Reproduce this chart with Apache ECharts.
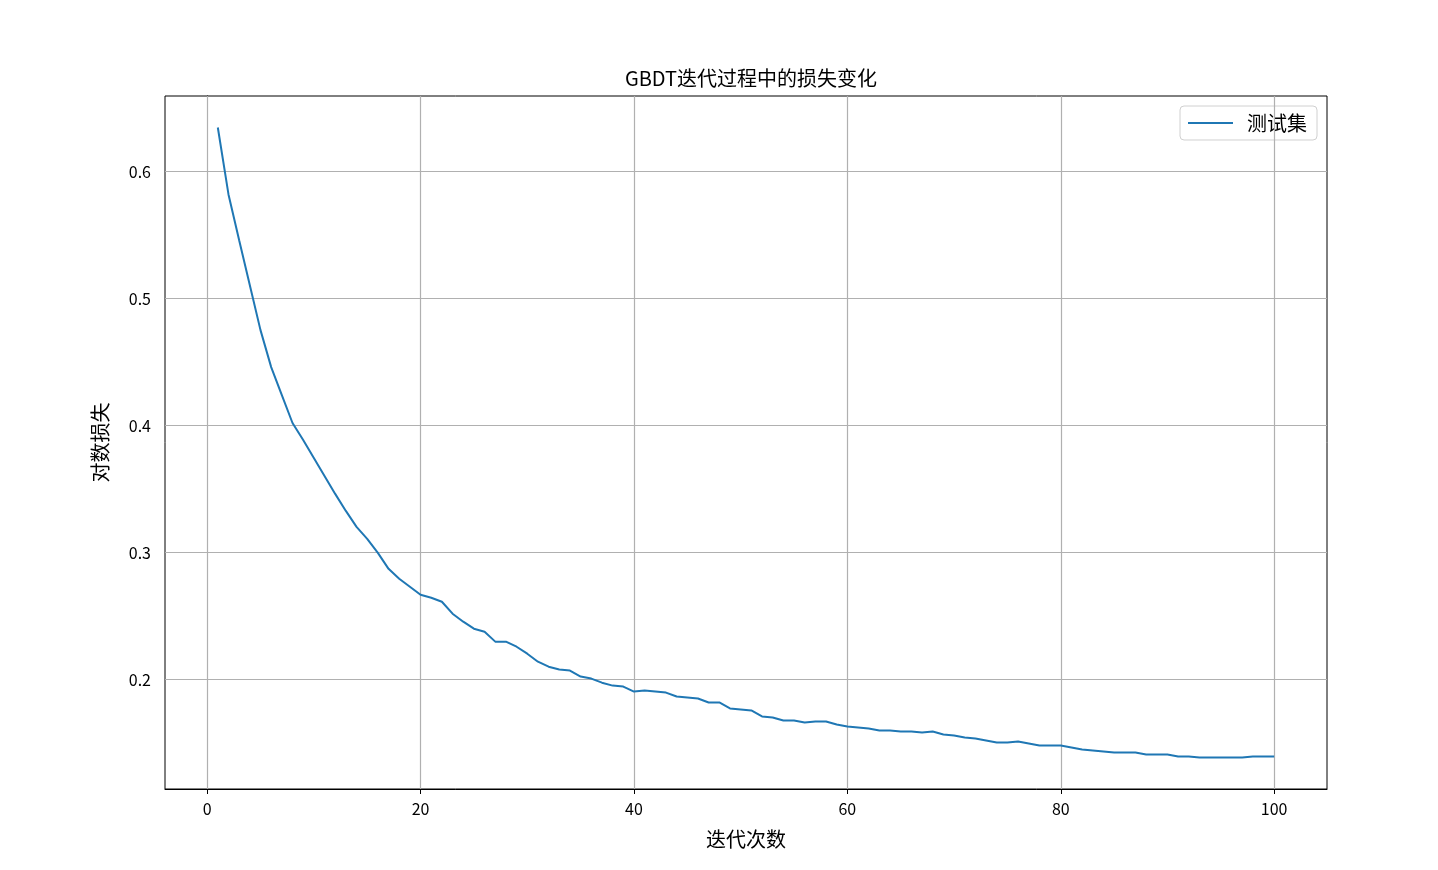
<!DOCTYPE html>
<html>
<head>
<meta charset="utf-8">
<script src="https://cdn.jsdelivr.net/npm/echarts@6/dist/echarts.min.js"></script>
<style>html,body{margin:0;padding:0;background:#fff}#c{width:1438px;height:870px}</style>
</head>
<body>
<div id="c"></div>
<script>
var iterations = [];
for (var i = 1; i <= 100; i++) iterations.push(i);
var testLoss = [
0.6346,0.5819,0.5458,0.5104,0.4751,0.4460,0.4240,0.4020,0.3886,0.3745,
0.3603,0.3462,0.3328,0.3202,0.3108,0.2998,0.2872,0.2794,0.2731,0.2668,
0.2644,0.2613,0.2519,0.2456,0.2401,0.2377,0.2299,0.2299,0.2259,0.2204,
0.2141,0.2102,0.2079,0.2071,0.2024,0.2008,0.1976,0.1953,0.1945,0.1906,
0.1914,0.1906,0.1898,0.1867,0.1859,0.1851,0.1820,0.1820,0.1773,0.1765,
0.1757,0.1710,0.1702,0.1678,0.1678,0.1662,0.1670,0.1670,0.1647,0.1631,
0.1623,0.1615,0.1599,0.1599,0.1591,0.1591,0.1584,0.1591,0.1568,0.1560,
0.1544,0.1536,0.1521,0.1505,0.1505,0.1513,0.1497,0.1481,0.1481,0.1481,
0.1466,0.1450,0.1442,0.1434,0.1426,0.1426,0.1426,0.1411,0.1411,0.1411,
0.1395,0.1395,0.1387,0.1387,0.1387,0.1387,0.1387,0.1395,0.1395,0.1395
];
var xTicks = [0, 20, 40, 60, 80, 100];
var yTicks = [0.2, 0.3, 0.4, 0.5, 0.6];
var titleText = 'GBDT迭代过程中的损失变化';
var xName = '迭代次数';
var yName = '对数损失';
var seriesName = '测试集';

var FONT = '"Noto Sans CJK SC", "DejaVu Sans", sans-serif';
var chart = echarts.init(document.getElementById('c'), null, {renderer: 'canvas'});
var pts = iterations.map(function (x, k) { return [x, testLoss[k]]; });
var xmin = 1 - 0.05 * 99, xmax = 100 + 0.05 * 99;
var ymaxD = Math.max.apply(null, testLoss), yminD = Math.min.apply(null, testLoss);
var yr = ymaxD - yminD;
chart.setOption({
  animation: false,
  backgroundColor: '#fff',
  title: {
    text: titleText, left: 746, top: 63, textAlign: 'center',
    textStyle: {fontFamily: FONT, fontSize: 20, fontWeight: 'normal', color: '#000'}
  },
  legend: {
    data: [{name: seriesName, icon: 'path://M0,0 L45,0 L45,2 L0,2 Z'}], right: 121, top: 106,
    orient: 'vertical',
    borderColor: '#d0d0d0', borderWidth: 1, borderRadius: 4,
    padding: [7, 10, 7, 8],
    itemWidth: 45, itemHeight: 2, itemGap: 6,
    textStyle: {fontFamily: FONT, fontSize: 20, color: '#000', padding: [0, 0, 0, 9]}
  },
  grid: {left: 165, top: 96, width: 1162, height: 693, show: true, borderColor: '#000', borderWidth: 1, backgroundColor: 'transparent'},
  xAxis: {
    type: 'value', min: xmin, max: xmax,
    name: xName, nameLocation: 'middle', nameGap: 40,
    nameTextStyle: {fontFamily: FONT, fontSize: 20, color: '#000'},
    axisLine: {show: true, lineStyle: {color: '#000', width: 1}},
    axisTick: {show: true, length: 5, lineStyle: {color: '#000'}, customValues: xTicks},
    axisLabel: {fontFamily: FONT, fontSize: 16, color: '#000', margin: 12, customValues: xTicks},
    splitLine: {show: false}
  },
  yAxis: {
    type: 'value', min: yminD - 0.05 * yr, max: ymaxD + 0.05 * yr,
    name: yName, nameLocation: 'middle', nameGap: 55,
    nameTextStyle: {fontFamily: FONT, fontSize: 20, color: '#000'},
    axisLine: {show: true, lineStyle: {color: '#000', width: 1}},
    axisTick: {show: true, length: 5, lineStyle: {color: '#000'}, customValues: yTicks},
    axisLabel: {fontFamily: FONT, fontSize: 16, color: '#000', margin: 14, customValues: yTicks,
      formatter: function (v) { return v.toFixed(1); }},
    splitLine: {show: false}
  },
  series: [
    {
      name: seriesName, type: 'line', data: pts, symbol: 'none', showSymbol: false,
      lineStyle: {color: '#1f77b4', width: 2}, itemStyle: {color: '#1f77b4'}, z: 5
    },
    {
      type: 'line', data: [], silent: true, z: 1,
      markLine: {
        silent: true, symbol: 'none', label: {show: false},
        lineStyle: {color: '#b0b0b0', width: 1.2, type: 'solid'},
        data: xTicks.map(function (v) { return {xAxis: v}; }).concat(yTicks.map(function (v) { return {yAxis: v}; }))
      }
    }
  ]
});
</script>
</body>
</html>
